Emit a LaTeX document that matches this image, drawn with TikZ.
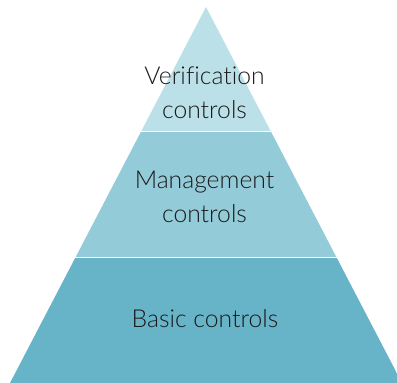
\documentclass[tikz,border=0pt]{standalone}
\usepackage{fontspec}
\setmainfont[Ligatures=NoCommon]{Lato Light}
\definecolor{topband}{HTML}{BCE0E8}
\definecolor{midband}{HTML}{93CBD9}
\definecolor{lowband}{HTML}{67B3C8}
\definecolor{bandink}{HTML}{1A1A1A}
\tikzset{
  bandtext/.style={font=\fontsize{24.7}{34}\selectfont, align=center,
    text=bandink, inner sep=0pt}
}

\begin{document}
\begin{tikzpicture}[x=1pt,y=-1pt]
    \useasboundingbox (0,0) rectangle (397,383);
    \begin{scope}
      \clip (206,7) -- (10,383) -- (402,383) -- cycle;
      \fill[topband] (0,0) rectangle (397,130.8);
      \fill[midband] (0,132.3) rectangle (397,256.8);
      \fill[lowband] (0,258.3) rectangle (397,383);
    \end{scope}
    \node[bandtext] (verif) at (204.5,92.5) {Verification\\controls};
    \node[bandtext] (mgmt) at (204.5,197) {Management\\controls};
    \node[bandtext, anchor=base] (basic) at (205,327) {Basic controls};
  \end{tikzpicture}
\end{document}
